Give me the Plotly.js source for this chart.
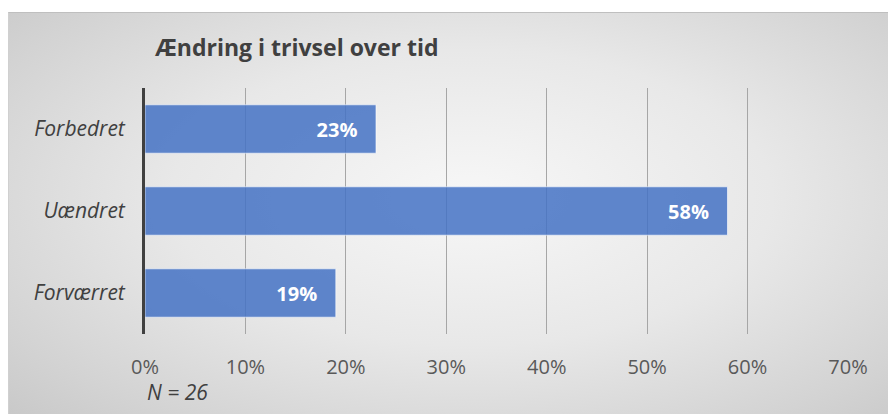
<!DOCTYPE html>
<html>
<head>
<meta charset="utf-8">
<script src="https://cdn.plot.ly/plotly-3.0.1.min.js"></script>
<style>
  html, body { margin: 0; padding: 0; background: #ffffff; }
  #wrap { position: relative; width: 888px; height: 414px; overflow: hidden; }
  #panel { position: absolute; left: 8px; top: 12px; width: 890px; height: 410px;
    border-top: 1px solid #bfbfbf; border-left: 1px solid #d0d0d0;
    background: radial-gradient(ellipse 75% 80% at 52% 45%, #f7f7f7 0%, #e8e8e8 45%, #d3d3d3 80%, #c6c6c6 100%); }
  #chart { position: absolute; left: 0; top: 0; width: 888px; height: 414px; }
</style>
</head>
<body>
<div id="wrap">
  <div id="panel"></div>
  <div id="chart"></div>
</div>
<script>
// Data
const categories = ["Forbedret", "Uændret", "Forværret"];
const values = [0.23, 0.58, 0.19];
const valueLabels = ["23%", "58%", "19%"];
const tickValues = [0, 0.1, 0.2, 0.3, 0.4, 0.5, 0.6, 0.7];
const tickLabels = ["0%", "10%", "20%", "30%", "40%", "50%", "60%", "70%"];
const chartTitle = "Ændring i trivsel over tid";
const noteText = "N = 26";

const FONT = "'Open Sans', 'Noto Sans', sans-serif";

const trace = {
  type: "bar",
  orientation: "h",
  y: categories,
  x: values,
  text: valueLabels.map(t => t + "   "),
  textposition: "inside",
  insidetextanchor: "end",
  textfont: { family: FONT, size: 20, color: "#ffffff", weight: "bold" },
  marker: { color: "rgba(68,114,196,0.85)", line: { color: "rgba(255,255,255,0.6)", width: 1 } },
  hoverinfo: "none",
  cliponaxis: false
};

const layout = {
  width: 888,
  height: 414,
  paper_bgcolor: "rgba(0,0,0,0)",
  plot_bgcolor: "rgba(0,0,0,0)",
  margin: { l: 145, r: 40, t: 88, b: 80 },
  showlegend: false,
  bargap: 0.41,
  title: {
    text: "<b>" + chartTitle + "</b>",
    font: { family: FONT, size: 23, color: "#404040" },
    xref: "paper", x: 0.0142, xanchor: "left",
    yref: "container", y: 0.884, yanchor: "middle"
  },
  xaxis: {
    range: [0, 0.7],
    tickvals: tickValues,
    ticktext: tickLabels,
    showgrid: true,
    gridcolor: "#a6a6a6",
    gridwidth: 1,
    zeroline: false,
    showline: false,
    ticks: "",
    ticklabelstandoff: 19,
    tickfont: { family: FONT, size: 20, color: "#595959" },
    fixedrange: true
  },
  yaxis: {
    type: "category",
    autorange: "reversed",
    showgrid: false,
    zeroline: false,
    showline: true,
    linecolor: "#404040",
    linewidth: 3,
    ticks: "",
    ticklabelstandoff: 13,
    tickfont: { family: FONT, size: 21, color: "#404040", style: "italic" },
    fixedrange: true
  },
  annotations: [{
    text: noteText,
    xref: "paper", yref: "paper",
    x: 0.0, y: -0.236,
    xanchor: "left", yanchor: "middle",
    showarrow: false,
    font: { family: FONT, size: 21, color: "#404040", style: "italic" }
  }]
};

Plotly.newPlot("chart", [trace], layout, { displayModeBar: false, staticPlot: true });
</script>
</body>
</html>
